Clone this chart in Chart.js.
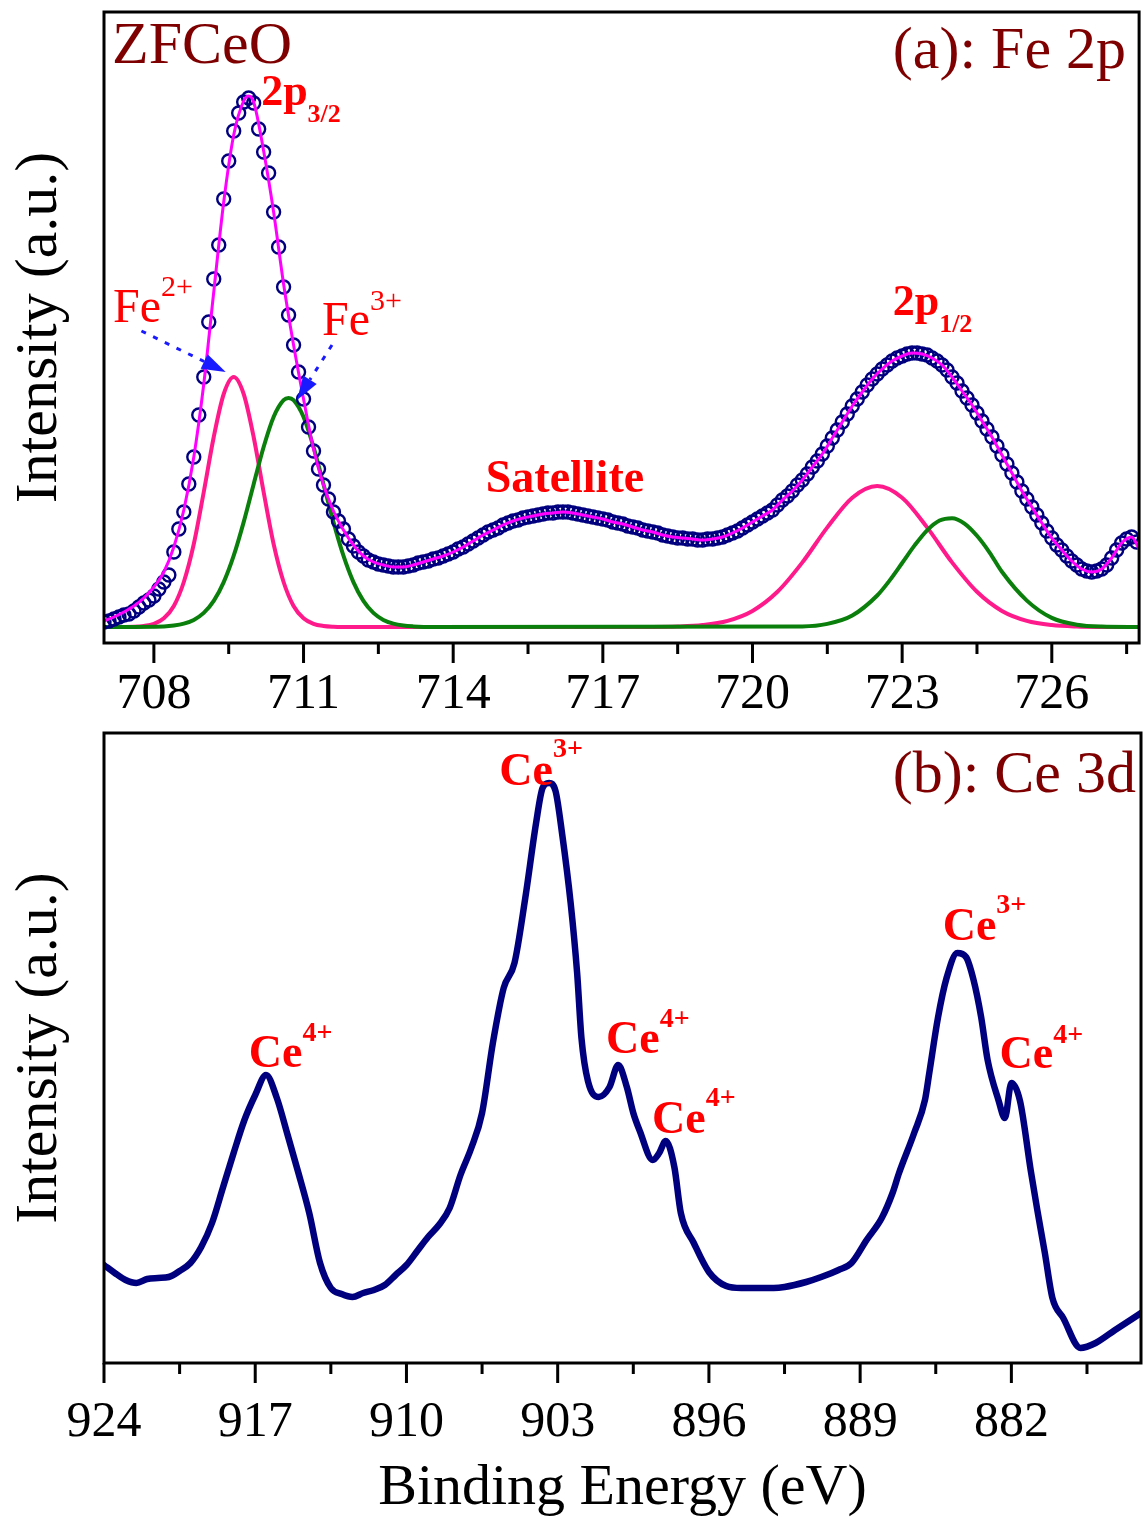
<!DOCTYPE html>
<html>
<head>
<meta charset="utf-8">
<title>ZFCeO XPS</title>
<script src="https://cdn.jsdelivr.net/npm/chart.js@4.4.1/dist/chart.umd.min.js"></script>
<style>
  html, body { margin: 0; padding: 0; background: #fff; }
  #panelA { position: absolute; left: 0; top: 0; }
  #panelB { position: absolute; left: 0; top: 720px; }
</style>
</head>
<body>
<canvas id="panelA" width="1148" height="720"></canvas>
<canvas id="panelB" width="1148" height="804"></canvas>
<script>
// ---- (a) Fe 2p : measured points, 0.1 eV step starting at 707.0 eV ----
const feStart = 707.0;
const feStep = 0.1;
const feCounts = [
  5, 6, 8, 10, 12, 13, 16, 20, 24, 27,
  31, 38, 45, 52, 75, 98, 115, 143, 170, 212,
  250, 305, 348, 382, 428, 466, 496, 514, 525, 529,
  524, 498, 475, 454, 415, 380, 340, 312, 282, 255,
  228, 200, 176, 158, 142, 128, 115, 106, 98, 88,
  81, 75, 71, 67, 65, 63, 62, 61, 60, 60,
  60, 61, 62, 64, 65, 66, 68, 69, 71, 73,
  75, 78, 80, 83, 86, 89, 92, 95, 97, 99,
  102, 104, 106, 107, 109, 110, 111, 112, 113, 114,
  114, 115, 115, 115, 114, 113, 112, 111, 110, 109,
  108, 107, 105, 104, 103, 101, 100, 99, 97, 96,
  95, 94, 92, 91, 90, 89, 89, 88, 88, 87,
  87, 88, 88, 89, 90, 92, 94, 96, 99, 102,
  105, 108, 111, 114, 117, 122, 127, 131, 136, 142,
  147, 153, 160, 166, 173, 181, 189, 197, 205, 213,
  221, 228, 235, 242, 248, 253, 258, 262, 266, 269,
  271, 273, 274, 274, 273, 272, 269, 266, 262, 257,
  250, 244, 236, 229, 222, 214, 206, 198, 190, 181,
  172, 163, 154, 145, 136, 128, 120, 112, 104, 96,
  89, 82, 77, 71, 66, 62, 58, 56, 55, 56,
  58, 62, 69, 77, 84, 88, 90, 85
];

// cumulative fit (envelope)
const envEnergy = [707.0, 707.2, 707.4, 707.6, 707.8, 708.0, 708.2, 708.4, 708.6, 708.8,
  709.0, 709.2, 709.4, 709.6, 709.8, 709.9, 710.0, 710.2, 710.4, 710.6, 710.8,
  711.0, 711.2, 711.4, 711.6, 711.8, 712.0, 712.2, 712.4, 712.6, 712.8,
  713.0, 713.2, 713.4, 713.6, 713.8, 714.0, 714.2, 714.4, 714.6, 714.8,
  715.0, 715.2, 715.4, 715.6, 715.8, 716.0, 716.2, 716.4, 716.6, 716.8,
  717.0, 717.2, 717.4, 717.6, 717.8, 718.0, 718.2, 718.4, 718.6, 718.8,
  719.0, 719.2, 719.4, 719.6, 719.8, 720.0, 720.2, 720.4, 720.6, 720.8,
  721.0, 721.2, 721.4, 721.6, 721.8, 722.0, 722.2, 722.4, 722.6, 722.8,
  723.0, 723.2, 723.4, 723.6, 723.8, 724.0, 724.2, 724.4, 724.6, 724.8,
  725.0, 725.2, 725.4, 725.6, 725.8, 726.0, 726.2, 726.4, 726.6, 726.8,
  727.0, 727.2, 727.4, 727.6, 727.75];
const envFit = [6, 10, 15, 21, 29, 40, 55, 80, 117, 170,
  243, 335, 425, 492, 526, 531, 525, 476, 415, 343, 282,
  228, 178, 142, 116, 97, 82, 71, 65, 62, 60,
  60, 62, 65, 68, 71, 75, 80, 86, 92, 97,
  102, 106, 109, 111, 113, 114, 115, 114, 112, 110,
  108, 105, 103, 100, 97, 95, 92, 90, 89, 88,
  87, 88, 90, 94, 99, 105, 111, 117, 127, 136,
  147, 160, 173, 189, 205, 221, 235, 248, 258, 266,
  271, 274, 273, 269, 262, 250, 236, 222, 206, 190,
  172, 154, 136, 120, 104, 89, 77, 66, 58, 55,
  58, 69, 84, 90, 78];

// Fe2+ components (2p3/2 and 2p1/2)
const fe2Energy = [707.0, 707.6, 707.8, 708.0, 708.2, 708.4, 708.6, 708.8, 709.0, 709.2,
  709.4, 709.6, 709.8, 710.0, 710.2, 710.4, 710.6, 710.8, 711.0, 711.2, 711.4, 711.6,
  712.0, 718.0, 718.5, 719.0, 719.5, 720.0, 720.5, 721.0, 721.5, 722.0, 722.5, 723.0,
  723.5, 724.0, 724.5, 725.0, 725.5, 726.0, 726.5, 727.0, 727.75];
const fe2Fit = [0, 0.3, 1.0, 3.1, 8.7, 21, 45, 83, 135, 190,
  233, 250, 233, 190, 135, 83, 45, 21, 8.7, 3.1, 1.0, 0.3,
  0, 0.1, 0.5, 2.0, 6.2, 16.1, 35.2, 64.6, 99.6, 129.3, 141, 129.3,
  99.6, 64.6, 35.2, 16.1, 6.2, 2.0, 0.5, 0.1, 0];

// Fe3+ components (2p3/2 and 2p1/2)
const fe3Energy = [707.0, 708.2, 708.4, 708.6, 708.8, 709.0, 709.2, 709.4, 709.6, 709.8,
  710.0, 710.2, 710.4, 710.6, 710.7, 710.8, 711.0, 711.2, 711.4, 711.6, 711.8,
  712.0, 712.2, 712.4, 712.6, 712.8, 713.0, 713.2, 713.6,
  721.0, 721.5, 722.0, 722.5, 722.75, 723.0, 723.25, 723.5, 723.75, 724.0,
  724.25, 724.5, 724.75, 725.0, 725.5, 726.0, 726.5, 727.0, 727.75];
const fe3Fit = [0, 0.6, 1.4, 3.3, 7.1, 14.1, 26.1, 44.9, 71.3, 104.9,
  142.8, 180, 210, 226.8, 229, 226.8, 210, 180, 142.8, 104.9, 71.3,
  44.9, 26.1, 14.1, 7.1, 3.3, 1.4, 0.6, 0,
  0.6, 3.1, 11.5, 31.5, 46.6, 64, 81.6, 96.7, 106.5, 108.8,
  103.4, 91.2, 74.7, 55.2, 26.4, 9.1, 2.3, 0.4, 0];

const feMajorTicks = [708, 711, 714, 717, 720, 723, 726];
const feMinorTicks = [709.5, 712.5, 715.5, 718.5, 721.5, 724.5, 727.5];

// ---- (b) Ce 3d ----
const ceEnergy = [924.0, 923.5, 923.0, 922.5, 922.0, 921.5, 921.0, 920.5, 920.0, 919.5,
  919.0, 918.5, 918.0, 917.5, 917.0, 916.5, 916.0, 915.5, 915.0, 914.5,
  914.0, 913.5, 913.0, 912.5, 912.0, 911.5, 911.0, 910.5, 910.0, 909.5,
  909.0, 908.5, 908.0, 907.5, 907.0, 906.5, 906.0, 905.5, 905.0, 904.5,
  904.0, 903.7, 903.4, 903.1, 902.8, 902.4, 902.1, 901.9, 901.6, 901.1,
  900.6, 900.2, 899.8, 899.5, 899.2, 898.6, 898.3, 898.0, 897.6, 897.3,
  896.7, 896.0, 895.2, 894.5, 893.8, 893.0, 892.5, 891.5, 890.8, 890.0,
  889.4, 888.7, 888.0, 887.5, 887.2, 886.5, 886.0, 885.8, 885.4, 885.0,
  884.5, 884.1, 883.75, 883.4, 883.1, 882.6, 882.3, 882.0, 881.6, 881.1,
  880.8, 880.45, 880.1, 879.6, 878.8, 878.1, 877.2, 876.0];
const ceCounts = [98, 90, 83, 80, 84, 85, 86, 92, 100, 116,
  140, 175, 210, 243, 268, 288, 265, 228, 190, 150,
  100, 75, 69, 66, 70, 73, 78, 88, 98, 112,
  126, 138, 155, 188, 215, 250, 320, 375, 400, 465,
  540, 575, 580, 572, 530, 460, 390, 325, 282, 266,
  276, 298, 276, 250, 232, 203, 210, 222, 196, 150,
  120, 91, 77, 75, 75, 75, 76, 81, 86, 93,
  100, 123, 145, 170, 190, 230, 263, 290, 345, 385,
  410, 406, 383, 346, 303, 263, 245, 280, 262, 192,
  153, 110, 65, 45, 15, 20, 33, 50];

const ceMajorTicks = [924, 917, 910, 903, 896, 889, 882];
const ceMinorTicks = [920.5, 913.5, 906.5, 899.5, 892.5, 885.5, 878.5];

// ---- styling helpers ----
const SERIF = "'Liberation Serif', 'Times New Roman', serif";
Chart.defaults.font.family = SERIF;
Chart.defaults.color = '#000';

const toPoints = (xs, ys) => xs.map((x, i) => ({ x: x, y: ys[i] }));
const feMeasured = feCounts.map((v, i) => ({ x: +(feStart + i * feStep).toFixed(2), y: v }));

const RED = '#ff0000';
const MAROON = '#7f0000';

// annotation texts in data coordinates (parts: text, font, baseline shift)
const feNotes = [
  { x: 710.15, y: 522, color: RED, parts: [['2p', 'bold 44px', 0], ['3/2', 'bold 26px', 17]] },
  { x: 722.81, y: 312, color: RED, parts: [['2p', 'bold 44px', 0], ['1/2', 'bold 26px', 17]] },
  { x: 716.24, y: 135, color: RED, align: 'center', parts: [['Satellite', 'bold 46px', 0]] },
  { x: 707.18, y: 305, color: RED, parts: [['Fe', '48px', 0], ['2+', '30px', -26]] },
  { x: 711.37, y: 292, color: RED, parts: [['Fe', '48px', 0], ['3+', '30px', -25]] }
];
const feArrows = [
  { from: [707.75, 296], to: [709.44, 255] },
  { from: [711.57, 282], to: [710.87, 227] }
];
const ceNotes = [
  { x: 905.70, y: 578, color: RED, parts: [['Ce', 'bold 46px', 0], ['3+', 'bold 28px', -28]] },
  { x: 917.30, y: 296, color: RED, parts: [['Ce', 'bold 46px', 0], ['4+', 'bold 28px', -26]] },
  { x: 900.76, y: 310, color: RED, parts: [['Ce', 'bold 46px', 0], ['4+', 'bold 28px', -26]] },
  { x: 898.63, y: 230, color: RED, parts: [['Ce', 'bold 46px', 0], ['4+', 'bold 28px', -27]] },
  { x: 885.18, y: 423, color: RED, parts: [['Ce', 'bold 46px', 0], ['3+', 'bold 28px', -27]] },
  { x: 882.55, y: 295, color: RED, parts: [['Ce', 'bold 46px', 0], ['4+', 'bold 28px', -25]] }
];

function drawRich(ctx, x, y, parts, align) {
  let widths = parts.map(p => { ctx.font = p[1] + ' ' + SERIF; return ctx.measureText(p[0]).width; });
  let total = widths.reduce((a, b) => a + b, 0);
  let cx = align === 'center' ? x - total / 2 : (align === 'right' ? x - total : x);
  ctx.textAlign = 'left';
  ctx.textBaseline = 'alphabetic';
  parts.forEach((p, i) => {
    ctx.font = p[1] + ' ' + SERIF;
    ctx.fillText(p[0], cx, y + p[2]);
    cx += widths[i];
  });
}

function decor(cfg) {
  return {
    id: 'decor',
    afterDatasetsDraw(chart) {
      const { ctx, chartArea: a, scales: { x, y } } = chart;
      ctx.save();
      // frame
      ctx.strokeStyle = '#000';
      ctx.lineWidth = 3;
      ctx.strokeRect(a.left, a.top, a.right - a.left, a.bottom - a.top);
      // outward ticks
      ctx.beginPath();
      cfg.major.forEach(v => { const px = x.getPixelForValue(v); ctx.moveTo(px, a.bottom); ctx.lineTo(px, a.bottom + 20); });
      cfg.minor.forEach(v => { const px = x.getPixelForValue(v); ctx.moveTo(px, a.bottom); ctx.lineTo(px, a.bottom + 11); });
      ctx.stroke();

      // dashed arrows
      (cfg.arrows || []).forEach(ar => {
        const x0 = x.getPixelForValue(ar.from[0]), y0 = y.getPixelForValue(ar.from[1]);
        const x1 = x.getPixelForValue(ar.to[0]), y1 = y.getPixelForValue(ar.to[1]);
        const ang = Math.atan2(y1 - y0, x1 - x0);
        const head = 24;
        ctx.strokeStyle = '#1a1aff';
        ctx.fillStyle = '#1a1aff';
        ctx.lineWidth = 3;
        ctx.setLineDash([5, 8]);
        ctx.beginPath();
        ctx.moveTo(x0, y0);
        ctx.lineTo(x1 - head * Math.cos(ang), y1 - head * Math.sin(ang));
        ctx.stroke();
        ctx.setLineDash([]);
        ctx.beginPath();
        ctx.moveTo(x1, y1);
        ctx.lineTo(x1 - head * Math.cos(ang) + 8 * Math.sin(ang), y1 - head * Math.sin(ang) - 8 * Math.cos(ang));
        ctx.lineTo(x1 - head * Math.cos(ang) - 8 * Math.sin(ang), y1 - head * Math.sin(ang) + 8 * Math.cos(ang));
        ctx.closePath();
        ctx.fill();
      });

      // peak labels
      cfg.notes.forEach(n => {
        ctx.fillStyle = n.color;
        drawRich(ctx, x.getPixelForValue(n.x), y.getPixelForValue(n.y), n.parts, n.align);
      });

      // corner labels
      ctx.fillStyle = MAROON;
      if (cfg.sample) drawRich(ctx, a.left + 8, a.top + 51, [[cfg.sample, '60px', 0]]);
      drawRich(ctx, a.right - cfg.panelInset, a.top + cfg.panelDrop, [[cfg.panel, '60px', 0]], 'right');
      ctx.restore();
    }
  };
}

function yAxis(min, max) {
  return {
    min: min, max: max,
    ticks: { display: false },
    grid: { display: false, drawTicks: false },
    border: { display: false },
    title: { display: true, text: 'Intensity (a.u.)', color: '#000', font: { size: 60 }, padding: { top: 4, bottom: 0 } },
    afterFit: s => { s.width = 104; }
  };
}

// ---- panel (a) ----
new Chart(document.getElementById('panelA'), {
  type: 'line',
  data: {
    datasets: [
      { label: 'Envelope', data: toPoints(envEnergy, envFit), borderColor: '#ff00ff', borderWidth: 3,
        pointRadius: 0, cubicInterpolationMode: 'monotone', order: 0 },
      { label: 'Measured', data: feMeasured, showLine: false, pointStyle: 'circle', pointRadius: 6.5,
        pointBorderWidth: 2.4, pointBorderColor: '#00007f', pointBackgroundColor: 'rgba(0,0,0,0)', order: 1 },
      { label: 'Fe3+', data: toPoints(fe3Energy, fe3Fit), borderColor: '#0b7f0b', borderWidth: 4,
        pointRadius: 0, cubicInterpolationMode: 'monotone', order: 2 },
      { label: 'Fe2+', data: toPoints(fe2Energy, fe2Fit), borderColor: '#ff1a8c', borderWidth: 4,
        pointRadius: 0, cubicInterpolationMode: 'monotone', order: 3 }
    ]
  },
  options: {
    responsive: false,
    animation: false,
    devicePixelRatio: 1,
    events: [],
    layout: { padding: { left: 0, top: 12, right: 7, bottom: 0 } },
    plugins: { legend: { display: false }, tooltip: { enabled: false } },
    scales: {
      x: {
        type: 'linear', min: 707, max: 727.75,
        afterBuildTicks: s => { s.ticks = feMajorTicks.map(v => ({ value: v })); },
        ticks: { padding: 22, font: { size: 50 }, color: '#000', maxRotation: 0, autoSkip: false, callback: v => String(v) },
        grid: { display: false, drawTicks: false },
        border: { display: false },
        afterFit: s => { s.height = 77; }
      },
      y: yAxis(-16, 615)
    }
  },
  plugins: [decor({ major: feMajorTicks, minor: feMinorTicks, notes: feNotes, arrows: feArrows,
    sample: 'ZFCeO', panel: '(a): Fe 2p', panelInset: 13, panelDrop: 56 })]
});

// ---- panel (b) ----
new Chart(document.getElementById('panelB'), {
  type: 'line',
  data: {
    datasets: [
      { label: 'Ce 3d', data: toPoints(ceEnergy, ceCounts), borderColor: '#00007f', borderWidth: 6.5,
        pointRadius: 0, cubicInterpolationMode: 'monotone', borderJoinStyle: 'round', borderCapStyle: 'round' }
    ]
  },
  options: {
    responsive: false,
    animation: false,
    devicePixelRatio: 1,
    events: [],
    layout: { padding: { left: 0, top: 13, right: 7, bottom: 0 } },
    plugins: { legend: { display: false }, tooltip: { enabled: false } },
    scales: {
      x: {
        type: 'linear', reverse: true, min: 876, max: 924,
        afterBuildTicks: s => { s.ticks = ceMajorTicks.map(v => ({ value: v })); },
        ticks: { padding: 30, font: { size: 50 }, color: '#000', maxRotation: 0, autoSkip: false, callback: v => String(v) },
        grid: { display: false, drawTicks: false },
        border: { display: false },
        title: { display: true, text: 'Binding Energy (eV)', color: '#000', font: { size: 58 }, padding: { top: 0, bottom: 0 } },
        afterFit: s => { s.height = 161; }
      },
      y: yAxis(0, 630)
    }
  },
  plugins: [decor({ major: ceMajorTicks, minor: ceMinorTicks, notes: ceNotes,
    panel: '(b): Ce 3d', panelInset: 5, panelDrop: 59 })]
});
</script>
</body>
</html>
